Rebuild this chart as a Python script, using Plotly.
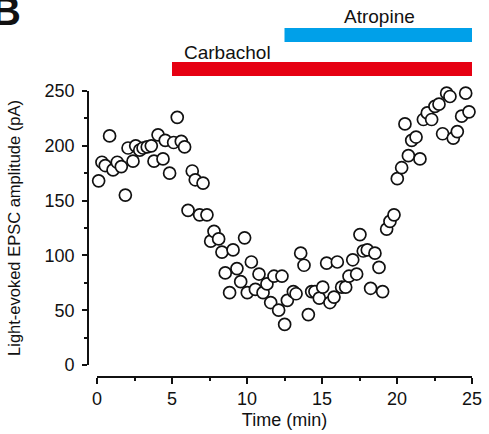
import plotly.graph_objects as go

# Data
time_min = [0.11, 0.33, 0.55, 0.84, 1.07, 1.35, 1.62, 1.89, 2.07, 2.4, 2.58, 2.85, 3.07, 3.35, 3.62,
            3.8, 4.07, 4.4, 4.55, 4.84, 5.11, 5.35, 5.62, 5.84, 6.07, 6.35, 6.55, 6.84, 7.07, 7.33,
            7.58, 7.8, 8.11, 8.33, 8.55, 8.84, 9.07, 9.33, 9.58, 9.84, 10.02, 10.29, 10.56, 10.8,
            11.07, 11.33, 11.58, 11.8, 12.11, 12.33, 12.51, 12.69, 13.09, 13.27, 13.58, 13.8, 14.09,
            14.31, 14.53, 14.82, 15.05, 15.31, 15.53, 15.8, 16.02, 16.31, 16.58, 16.8, 17.05, 17.31,
            17.53, 17.75, 18.02, 18.24, 18.53, 18.8, 19.04, 19.31, 19.53, 19.8, 20.02, 20.31, 20.53,
            20.76, 20.98, 21.27, 21.53, 21.76, 22.02, 22.31, 22.53, 22.8, 23.04, 23.31, 23.53, 23.75,
            24.02, 24.31, 24.58, 24.8, 25.02]
amplitude_pA = [168, 185, 182, 209, 178, 185, 181, 155, 198, 186, 200, 196, 198, 199, 200,
                186, 210, 188, 205, 175, 203, 226, 204, 199, 141, 177, 169, 137, 166, 137,
                113, 122, 115, 103, 84, 66, 105, 88, 76, 116, 66, 94, 69, 83,
                66, 74, 57, 81, 50, 81, 37, 59, 67, 65, 102, 91, 46,
                67, 67, 61, 71, 93, 57, 62, 94, 71, 71, 81, 96, 83,
                119, 104, 105, 70, 102, 89, 67, 124, 131, 137, 170, 180, 220,
                191, 205, 208, 188, 224, 230, 224, 236, 238, 211, 248, 245, 207,
                213, 227, 248, 231, 200]

drug_names = ["Carbachol", "Atropine"]
drug_start = [5.0, 12.5]
drug_end = [25.0, 25.0]
drug_colors = ["#e60012", "#00a0e9"]

x_ticks = [0, 5, 10, 15, 20, 25]
y_ticks = [0, 50, 100, 150, 200, 250]

FONT = "Liberation Sans, Arial, sans-serif"

fig = go.Figure()
fig.add_trace(go.Scatter(
    x=time_min, y=amplitude_pA, mode="markers",
    marker=dict(size=12, color="white", line=dict(color="#111111", width=1.7)),
    cliponaxis=False, showlegend=False,
))

# drug application bars (paper y bands)
bar_bands = [(1.0524, 1.1014), (1.1713, 1.2203)]
label_pos = [(8.67, 1.136), (18.8, 1.259)]
for name, s, e, c, (y0, y1), (lx, ly) in zip(drug_names, drug_start, drug_end, drug_colors, bar_bands, label_pos):
    fig.add_shape(type="rect", xref="x", yref="paper", x0=s, x1=e, y0=y0, y1=y1,
                  fillcolor=c, line=dict(width=0), layer="above")
    fig.add_annotation(text=name, xref="x", yref="paper", x=lx, y=ly, showarrow=False,
                       xanchor="center", yanchor="middle", font=dict(size=19, color="#111111", family=FONT))

fig.add_annotation(text="<b>B</b>", xref="paper", yref="paper", x=-0.211, y=1.281,
                   showarrow=False, xanchor="center", yanchor="middle",
                   font=dict(size=40, color="#111111", family=FONT))

fig.update_layout(
    width=489, height=434,
    margin=dict(l=88, r=17, t=91, b=57, autoexpand=False),
    plot_bgcolor="white", paper_bgcolor="white",
    font=dict(family=FONT, size=17, color="#111111"),
    xaxis=dict(
        domain=[9/384, 1], range=[0, 25], anchor="free", position=0, automargin=False,
        showline=True, linecolor="#111111", linewidth=1.6,
        ticks="outside", ticklen=6, tickwidth=1.6, tickcolor="#111111",
        tickvals=x_ticks, showgrid=False, zeroline=False,
        minor=dict(dtick=2.5, tick0=0, ticks="outside", ticklen=3, tickwidth=1.6, tickcolor="#111111", showgrid=False),
        title=dict(text="Time (min)", font=dict(size=18), standoff=4),
        tickfont=dict(size=18),
    ),
    yaxis=dict(
        domain=[12/286, 1], range=[0, 250], anchor="free", position=0, automargin=False,
        showline=True, linecolor="#111111", linewidth=1.6,
        ticks="outside", ticklen=5, tickwidth=1.6, tickcolor="#111111",
        tickvals=y_ticks, showgrid=False, zeroline=False,
        minor=dict(dtick=25, tick0=0, ticks="outside", ticklen=3, tickwidth=1.6, tickcolor="#111111", showgrid=False),
        title=dict(text="Light-evoked EPSC amplitude (pA)", font=dict(size=16.5), standoff=19),
        tickfont=dict(size=18), ticklabelstandoff=4,
    ),
)

fig.write_html("out.html")
